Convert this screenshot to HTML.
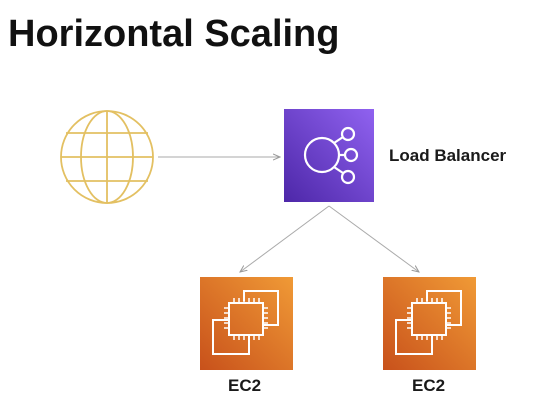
<!DOCTYPE html>
<html><head><style>
body{margin:0;width:537px;height:407px;background:#fff;overflow:hidden;position:relative;font-family:"Liberation Sans",sans-serif}
.t{position:absolute;left:8px;top:13px;font-size:38px;font-weight:bold;color:#111;letter-spacing:0px}
.l{position:absolute;font-weight:bold;color:#1a1a1a}
</style></head><body>
<div class="t">Horizontal Scaling</div>
<svg width="537" height="407" style="position:absolute;left:0;top:0">
<defs>
<linearGradient id="p" x1="0" y1="1" x2="1" y2="0"><stop offset="0" stop-color="#4d27a8"/><stop offset="1" stop-color="#9062f0"/></linearGradient>
<linearGradient id="o" x1="0" y1="1" x2="1" y2="0"><stop offset="0" stop-color="#c8511b"/><stop offset="1" stop-color="#f09a36"/></linearGradient>
<marker id="a" markerWidth="8" markerHeight="8" refX="7" refY="4" orient="auto" markerUnits="userSpaceOnUse"><path d="M0,1 L7,4 L0,7" fill="none" stroke="#999" stroke-width="1"/></marker>
<g id="ec2" fill="none" stroke="#fff" stroke-width="2">
<path d="M44,24 V14 H78 V48 H63"/>
<path d="M29,43 H13 V77 H49 V58"/>
<rect x="29" y="26" width="34" height="32"/>
<path d="M34,26v-5M39,26v-5M44,26v-5M49,26v-5M54,26v-5M59,26v-5M34,58v5M39,58v5M44,58v5M49,58v5M54,58v5M59,58v5M29,31h-5M29,36h-5M29,41h-5M29,46h-5M29,51h-5M63,31h5M63,36h5M63,41h5M63,46h5M63,51h5" stroke-width="1.5"/>
</g>
</defs>
<g fill="none" stroke="#e3c062" stroke-width="1.8">
<circle cx="107" cy="157" r="46"/>
<ellipse cx="107" cy="157" rx="26" ry="46"/>
<line x1="107" y1="111" x2="107" y2="203"/>
<line x1="61" y1="157" x2="153" y2="157"/>
<line x1="66" y1="133" x2="148" y2="133"/>
<line x1="66" y1="181" x2="148" y2="181"/>
</g>
<line x1="158" y1="157" x2="280" y2="157" stroke="#aaa" stroke-width="1" marker-end="url(#a)"/>
<rect x="284" y="109" width="90" height="93" fill="url(#p)"/>
<g fill="none" stroke="#fff" stroke-width="2.2">
<circle cx="322" cy="155" r="17"/>
<circle cx="348" cy="134" r="6"/><circle cx="351" cy="155" r="6"/><circle cx="348" cy="177" r="6"/>
<path d="M334,143 L343,137 M339,155 H345 M334,167 L343,173"/>
</g>
<line x1="329" y1="206" x2="240" y2="272" stroke="#aaa" stroke-width="1" marker-end="url(#a)"/>
<line x1="329" y1="206" x2="419" y2="272" stroke="#aaa" stroke-width="1" marker-end="url(#a)"/>
<rect x="200" y="277" width="93" height="93" fill="url(#o)"/>
<use href="#ec2" x="200" y="277"/>
<rect x="383" y="277" width="93" height="93" fill="url(#o)"/>
<use href="#ec2" x="383" y="277"/>
</svg>
<div class="l" style="left:389px;top:146px;font-size:17px">Load Balancer</div>
<div class="l" style="left:228px;top:376px;font-size:17px">EC2</div>
<div class="l" style="left:412px;top:376px;font-size:17px">EC2</div>
</body></html>
